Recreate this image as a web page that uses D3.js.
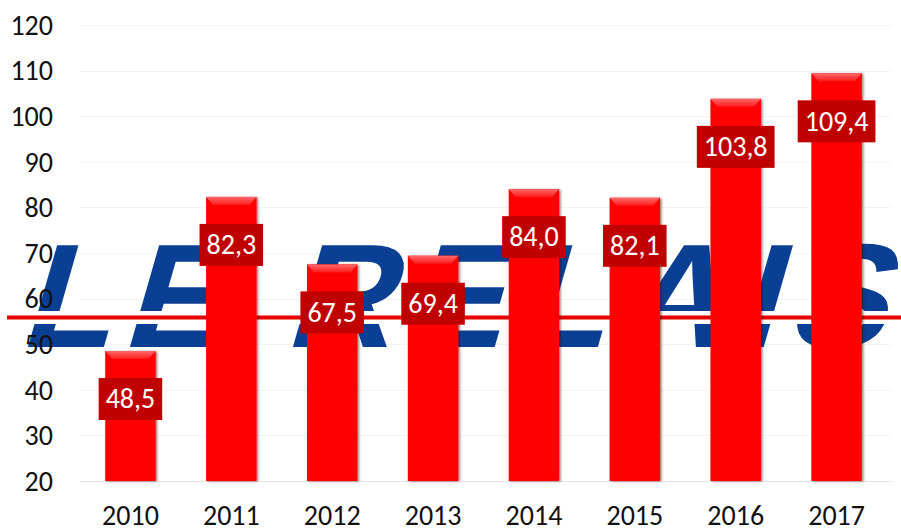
<!DOCTYPE html>
<html>
<head>
<meta charset="utf-8">
<script src="https://cdn.jsdelivr.net/npm/d3@7"></script>
<style>
  body { margin: 0; background: #fff; }
  svg { display: block; }
  text { font-family: Carlito, "Open Sans", sans-serif; }
</style>
</head>
<body>
<div id="chart"></div>
<script>
// data
const years = ['2010', '2011', '2012', '2013', '2014', '2015', '2016', '2017']
const values = [48.5, 82.3, 67.5, 69.4, 84.0, 82.1, 103.8, 109.4]
const labels = ['48,5', '82,3', '67,5', '69,4', '84,0', '82,1', '103,8', '109,4']
const yTicks = [20, 30, 40, 50, 60, 70, 80, 90, 100, 110, 120]

const width = 901
const height = 528
const padding = { left: 80, top: 25, right: 14, bottom: 47 }

const svg = d3.select('#chart').append('svg')
  .attr('width', width)
  .attr('height', height)

const defs = svg.append('defs')
const bevel = defs.append('linearGradient')
  .attr('id', 'bevel').attr('x1', 0).attr('y1', 0).attr('x2', 0).attr('y2', 1)
bevel.append('stop').attr('offset', '0%').attr('stop-color', '#ff6a6a')
bevel.append('stop').attr('offset', '100%').attr('stop-color', '#ff1a1a')

const shadow = defs.append('filter').attr('id', 'shadow')
  .attr('x', '-20%').attr('y', '-5%').attr('width', '140%').attr('height', '110%')
shadow.append('feDropShadow')
  .attr('dx', 1.5).attr('dy', 0.5).attr('stdDeviation', 1.2)
  .attr('flood-color', '#500000').attr('flood-opacity', 0.55)

const x = d3.scaleBand()
  .domain(years)
  .range([padding.left, width - padding.right])
  .paddingInner(0.5)
  .paddingOuter(0.25)

const y = d3.scaleLinear()
  .domain([20, 120])
  .range([height - padding.bottom, padding.top])

// gridlines
svg.append('g')
  .selectAll('line')
  .data(yTicks)
  .join('line')
  .attr('x1', padding.left)
  .attr('x2', width - padding.right + 4)
  .attr('y1', d => Math.round(y(d)) + 0.5)
  .attr('y2', d => Math.round(y(d)) + 0.5)
  .attr('stroke', d => d === 20 ? '#e4e4e4' : '#f3f3f3')
  .attr('stroke-width', 1)

// background logo
const logo = svg.append('g')
logo.append('text')
  .attr('transform', 'translate(18,347) skewX(-16)')
  .attr('x', 0)
  .attr('y', 0)
  .attr('textLength', 866)
  .attr('lengthAdjust', 'spacing')
  .style('font-family', '"Liberation Sans", sans-serif')
  .style('font-weight', 'bold')
  .style('font-size', '148px')
  .attr('fill', '#0b3f94')
  .text('LE RELAIS')
logo.append('rect')
  .attr('x', 0).attr('y', 311)
  .attr('width', width).attr('height', 13)
  .attr('fill', '#fff')
logo.append('line')
  .attr('x1', 7).attr('x2', width)
  .attr('y1', 317.5).attr('y2', 317.5)
  .attr('stroke', '#e60000')
  .attr('stroke-width', 4)

// y axis
const yAxis = d3.axisLeft(y)
  .tickValues(yTicks)
  .tickSize(0)
  .tickPadding(0)

svg.append('g')
  .attr('transform', 'translate(53,0)')
  .call(yAxis)
  .call(g => g.select('.domain').remove())
  .call(g => g.selectAll('text')
    .attr('fill', '#111')
    .style('font-size', '28px')
    .attr('dy', '0.33em'))

// x axis
const xAxis = d3.axisBottom(x)
  .tickSize(0)
  .tickPadding(0)

svg.append('g')
  .attr('transform', `translate(0,${height - padding.bottom})`)
  .call(xAxis)
  .call(g => g.select('.domain').remove())
  .call(g => g.selectAll('text')
    .attr('fill', '#111')
    .attr('y', 44)
    .attr('dy', 0)
    .style('font-size', '28px'))

// bars
const rows = years.map((yr, i) => ({ year: yr, value: values[i], label: labels[i] }))
const bars = svg.append('g')
  .selectAll('g')
  .data(rows)
  .join('g')

bars.append('rect')
  .attr('x', d => x(d.year))
  .attr('y', d => y(d.value))
  .attr('width', x.bandwidth())
  .attr('height', d => y(20) - y(d.value))
  .attr('fill', '#ff0000')
  .attr('filter', 'url(#shadow)')

bars.append('path')
  .attr('d', d => {
    const x0 = x(d.year)
    const x1 = x0 + x.bandwidth()
    const t = y(d.value)
    return `M${x0},${t}L${x1},${t}L${x1 - 7},${t + 8}L${x0 + 7},${t + 8}Z`
  })
  .attr('fill', 'url(#bevel)')

// value labels
const labelGroups = bars.append('g')
  .attr('transform', d => `translate(${x(d.year) + x.bandwidth() / 2},${y(d.value) + 48})`)

labelGroups.append('text')
  .attr('text-anchor', 'middle')
  .attr('dy', '0.33em')
  .attr('fill', '#fff')
  .style('font-size', '28px')
  .text(d => d.label)

labelGroups.each(function() {
  const g = d3.select(this)
  const bb = g.select('text').node().getBBox()
  g.insert('rect', 'text')
    .attr('x', bb.x - 7)
    .attr('y', -21)
    .attr('width', bb.width + 14)
    .attr('height', 42)
    .attr('fill', '#c00000')
})
</script>
</body>
</html>
